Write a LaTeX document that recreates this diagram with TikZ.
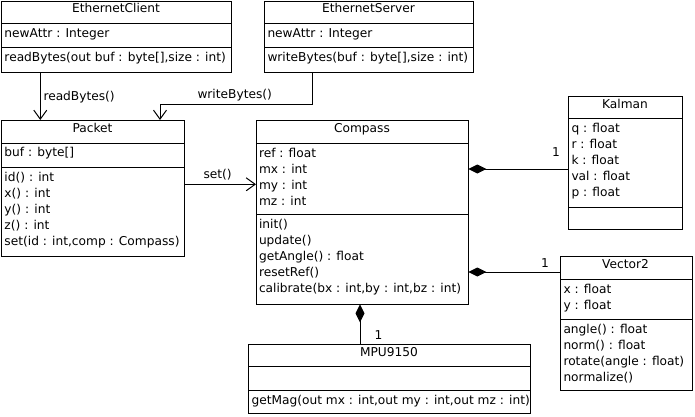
\documentclass[tikz,border=0pt]{standalone}
\usepackage{fontspec}
\setmainfont{DejaVu Sans}
\usetikzlibrary{arrows.meta,calc}
\begin{document}
\begin{tikzpicture}[x=1pt,y=-1pt,line width=1pt,
  box/.style={draw,line width=1pt,inner sep=0pt,outer sep=0pt,anchor=north west},
  txt/.style={anchor=base west,inner sep=0pt,font=\fontsize{12.2}{14}\selectfont},
  ttl/.style={anchor=base,inner sep=0pt,font=\fontsize{12.2}{14}\selectfont},
  openarrow/.style={-{Straight Barb[length=9pt,width=13pt,line width=1pt]}},
  compos/.style={{Diamond[length=18pt,width=9pt]}-}]
\useasboundingbox (0,0) rectangle (695,416);
\fill[white] (0,0) rectangle (695,416);

% EthernetClient
\node[box,minimum width=230pt,minimum height=71pt] (client) at (1,1) {};
\draw (1,23) -- (231,23);
\draw (1,47) -- (231,47);
\node[ttl] (clientT) at (116,12.7) {EthernetClient};
\node[txt] (clientA) at (4,37) {newAttr : Integer};
\node[txt] (clientM) at (4,61) {readBytes(out buf : byte[],size : int)};

% EthernetServer
\node[box,minimum width=209pt,minimum height=71pt] (server) at (264,1) {};
\draw (264,23) -- (473,23);
\draw (264,47) -- (473,47);
\node[ttl] (serverT) at (368.5,12.7) {EthernetServer};
\node[txt] (serverA) at (267,37) {newAttr : Integer};
\node[txt] (serverM) at (267,61) {writeBytes(buf : byte[],size : int)};

% Packet
\node[box,minimum width=183pt,minimum height=136.7pt] (packet) at (1,120) {};
\draw (1,143.3) -- (184,143.3);
\draw (1,167.3) -- (184,167.3);
\node[ttl] (packetT) at (92.5,132) {Packet};
\node[txt] (packetA) at (4,156.8) {buf : byte[]};
\node[txt] (packetM1) at (4,181) {id() : int};
\node[txt] (packetM2) at (4,197) {x() : int};
\node[txt] (packetM3) at (4,213) {y() : int};
\node[txt] (packetM4) at (4,229) {z() : int};
\node[txt] (packetM5) at (4,245) {set(id : int,comp : Compass)};

% Compass
\node[box,minimum width=212.3pt,minimum height=184.3pt] (compass) at (256,120) {};
\draw (256,143.3) -- (468.3,143.3);
\draw (256,214.3) -- (468.3,214.3);
\node[ttl] (compassT) at (362,132) {Compass};
\node[txt] (compassA1) at (258.5,157) {ref : float};
\node[txt] (compassA2) at (258.5,173) {mx : int};
\node[txt] (compassA3) at (258.5,189) {my : int};
\node[txt] (compassA4) at (258.5,205) {mz : int};
\node[txt] (compassM1) at (258.5,228) {init()};
\node[txt] (compassM2) at (258.5,244) {update()};
\node[txt] (compassM3) at (258.5,260) {getAngle() : float};
\node[txt] (compassM4) at (258.5,276) {resetRef()};
\node[txt] (compassM5) at (258.5,292) {calibrate(bx : int,by : int,bz : int)};

% Kalman
\node[box,minimum width=113.7pt,minimum height=132.3pt] (kalman) at (568.3,96.7) {};
\draw (568.3,118.3) -- (682,118.3);
\draw (568.3,207.3) -- (682,207.3);
\node[ttl] (kalmanT) at (625,108.7) {Kalman};
\node[txt] (kalmanA1) at (571,132.3) {q : float};
\node[txt] (kalmanA2) at (571,148.3) {r : float};
\node[txt] (kalmanA3) at (571,164.3) {k : float};
\node[txt] (kalmanA4) at (571,180.3) {val : float};
\node[txt] (kalmanA5) at (571,196.3) {p : float};

% Vector2
\node[box,minimum width=132pt,minimum height=134pt] (vector) at (560.3,256.7) {};
\draw (560.3,279.3) -- (692.3,279.3);
\draw (560.3,319.3) -- (692.3,319.3);
\node[ttl] (vectorT) at (625.5,268.7) {Vector2};
\node[txt] (vectorA1) at (563,293.3) {x : float};
\node[txt] (vectorA2) at (563,309.3) {y : float};
\node[txt] (vectorM1) at (563,333.3) {angle() : float};
\node[txt] (vectorM2) at (563,349.3) {norm() : float};
\node[txt] (vectorM3) at (563,365.3) {rotate(angle : float)};
\node[txt] (vectorM4) at (563,381.3) {normalize()};

% MPU9150
\node[box,minimum width=281.7pt,minimum height=69pt] (mpu) at (248.3,344.3) {};
\draw (248.3,366.7) -- (530,366.7);
\draw (248.3,390) -- (530,390);
\node[ttl] (mpuT) at (389,356.3) {MPU9150};
\node[txt] (mpuM) at (251,404) {getMag(out mx : int,out my : int,out mz : int)};

% connectors
\draw[openarrow] ($(client.south west)+(39.3,0)$) -- ($(packet.north west)+(39.3,0)$);
\node[txt] (lblRead) at (43,100) {readBytes()};

\draw[openarrow] ($(server.south west)+(48.3,0)$) |- ($(packet.north west)+(159,-15.7)$) -- ($(packet.north west)+(159,0)$);
\node[txt] (lblWrite) at (197,98) {writeBytes()};

\draw[openarrow] ($(packet.north east)+(0,64.3)$) -- ($(compass.north west)+(0,64.3)$);
\node[txt] (lblSet) at (203,178) {set()};

\draw[compos] ($(compass.north east)+(0,49)$) -- ($(kalman.north west)+(0,72.3)$);
\node[txt] (lblK) at (551.5,156) {1};

\draw[compos] ($(compass.north east)+(0,152)$) -- ($(vector.north west)+(0,15.3)$);
\node[txt] (lblV) at (540.5,267) {1};

\draw[compos] ($(compass.south west)+(104,0)$) -- ($(mpu.north west)+(111.7,0)$);
\node[txt] (lblM) at (374,339) {1};
\end{tikzpicture}
\end{document}
